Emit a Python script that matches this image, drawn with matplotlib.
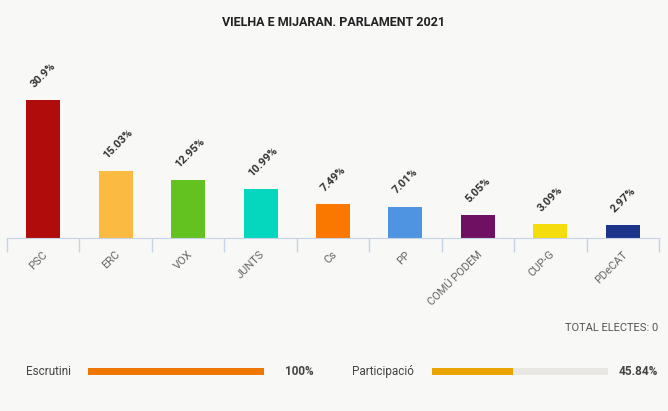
import matplotlib.pyplot as plt

partits = ['PSC', 'ERC', 'VOX', 'JUNTS', 'Cs', 'PP', 'COMÚ PODEM', 'CUP-G', 'PDeCAT']
vots = [30.9, 15.03, 12.95, 10.99, 7.49, 7.01, 5.05, 3.09, 2.97]
etiquetes = ['30.9%', '15.03%', '12.95%', '10.99%', '7.49%', '7.01%', '5.05%', '3.09%', '2.97%']
colors = ['#b00c0c', '#fbbb43', '#63c220', '#05d7bf', '#fb7800', '#4f94e0', '#701063', '#f5dc0d', '#1c358a']
escrutini = 100
participacio = 45.84

plt.rcParams['font.family'] = ['Roboto', 'DejaVu Sans']
W, H = 668, 411
bg = '#f8f8f7'
fig = plt.figure(figsize=(W / 100, H / 100), dpi=100, facecolor=bg)

# eix principal (coordenades en pixels)
ax = fig.add_axes([7 / W, 1 - 238 / H, 652 / W, 179 / H])
ax.set_facecolor(bg)
x = range(len(partits))
ax.bar(x, vots, width=0.47, color=colors)
ax.set_xlim(-0.5, len(partits) - 0.5)
ax.set_ylim(0, 40)
for s in ['top', 'right', 'left']:
    ax.spines[s].set_visible(False)
ax.spines['bottom'].set_color('#c4d3e6')
ax.set_yticks([])
ax.set_xticks([i - 0.5 for i in range(len(partits) + 1)])
ax.set_xticklabels([])
ax.tick_params(axis='x', length=10, color='#c4d3e6', width=1)
for i, p in enumerate(partits):
    ax.text(i - 0.01, -2.5, p, rotation=45, ha='right', va='top', rotation_mode='anchor',
            fontsize=8, color='#666666')
for i, (v, t) in enumerate(zip(vots, etiquetes)):
    ax.text(i - 0.1, v + 2.4, t, rotation=45, ha='left', va='bottom', rotation_mode='anchor',
            fontsize=8, fontweight='bold', color='#333333')

fig.text(0.5, 1 - 22 / H, 'VIELHA E MIJARAN. PARLAMENT 2021', ha='center', va='center',
         fontsize=9, fontweight='bold', color='#222222')
fig.text(658 / W, 1 - 328 / H, 'TOTAL ELECTES: 0', ha='right', va='center',
         fontsize=8, color='#555555')

# barres de progres
def barra(x0, valor, color):
    a = fig.add_axes([x0 / W, 1 - 375 / H, 176 / W, 7 / H])
    a.barh([0], [100], height=1, color='#e8e7e4')
    a.barh([0], [valor], height=1, color=color)
    a.set_xlim(0, 100)
    a.set_ylim(-0.5, 0.5)
    a.axis('off')

barra(88, escrutini, '#f07800')
barra(432, participacio, '#eaa400')
fig.text(26 / W, 1 - 371 / H, 'Escrutini', ha='left', va='center', fontsize=8.5, color='#444444')
fig.text(314 / W, 1 - 371 / H, '%d%%' % escrutini, ha='right', va='center', fontsize=8.5,
         fontweight='bold', color='#444444')
fig.text(352 / W, 1 - 371 / H, 'Participació', ha='left', va='center', fontsize=8.5, color='#444444')
fig.text(658 / W, 1 - 371 / H, '%.2f%%' % participacio, ha='right', va='center', fontsize=8.5,
         fontweight='bold', color='#444444')

fig.savefig('out.png', dpi=100, facecolor=bg)
